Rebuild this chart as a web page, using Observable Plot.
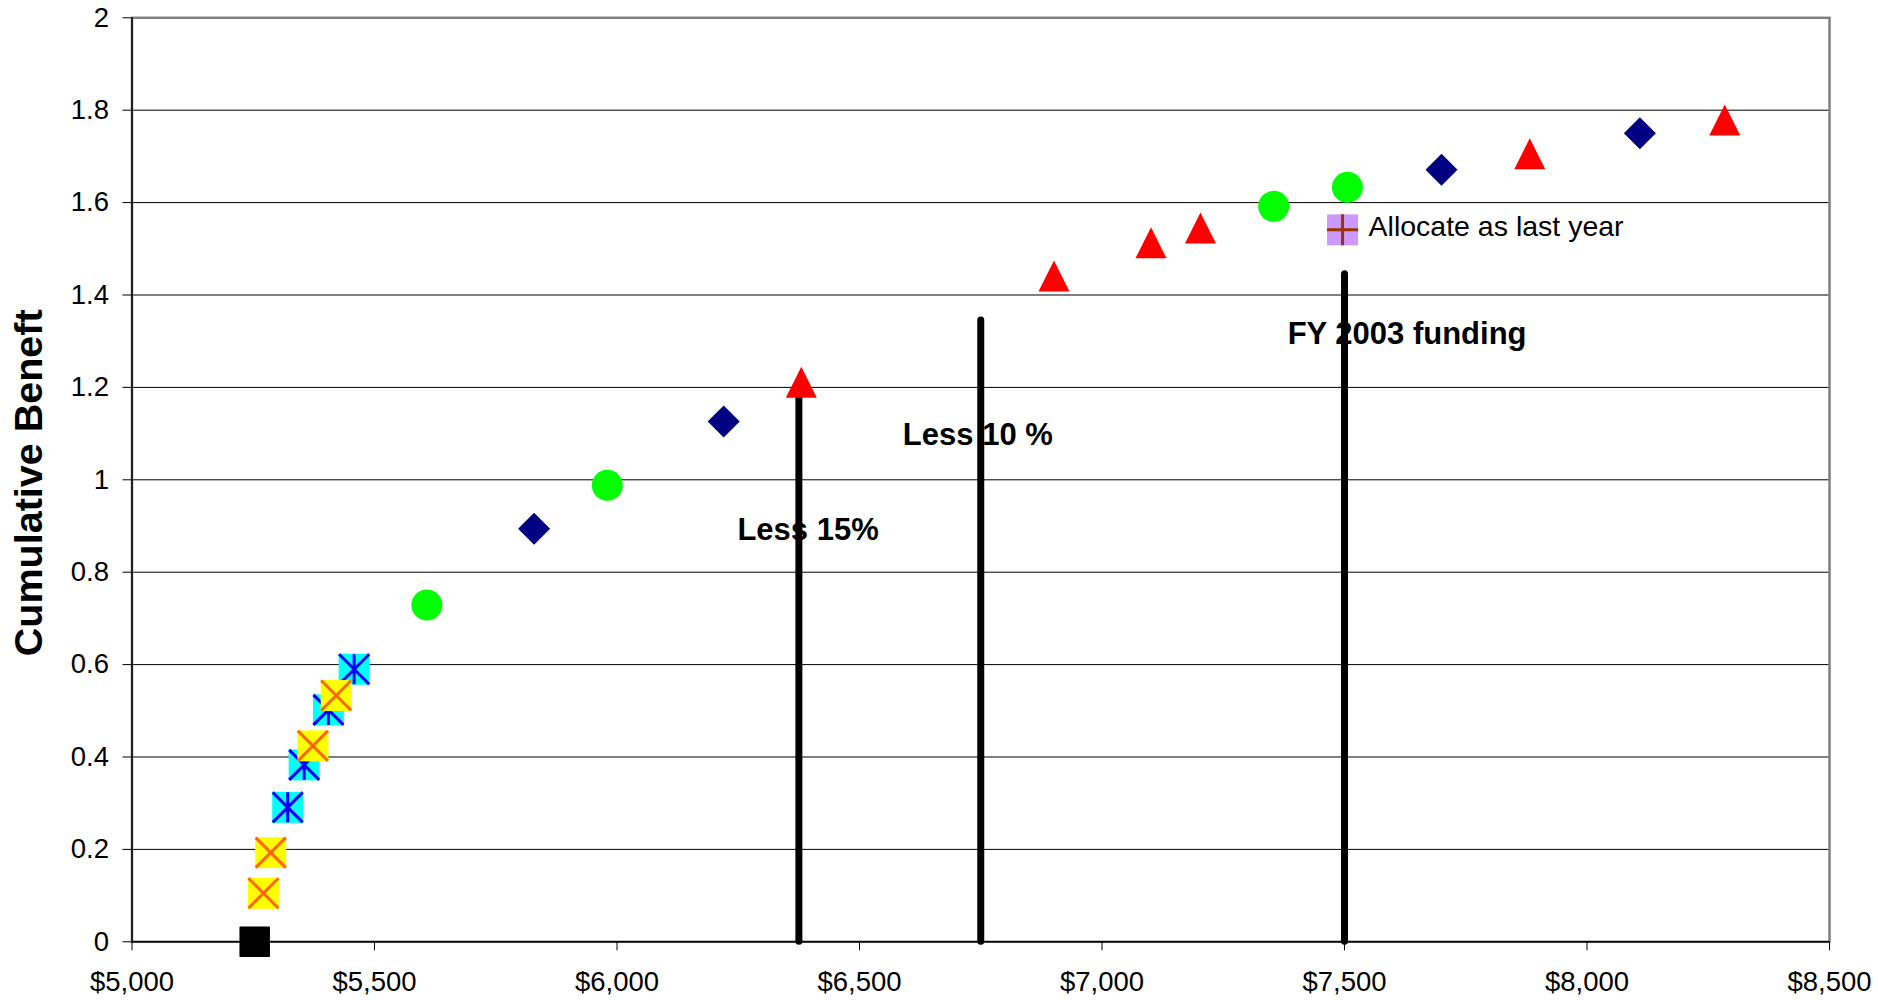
<!DOCTYPE html>
<html><head><meta charset="utf-8">
<script src="https://cdn.jsdelivr.net/npm/d3@7"></script>
<script src="https://cdn.jsdelivr.net/npm/@observablehq/plot@0.6"></script>
<style>html,body{margin:0;padding:0;background:#fff;} #chart svg{display:block}</style>
</head><body><div id="chart"></div>
<script>
// ---- data ----
const startX = [5253];            const startY = [0];
const yellowX = [5271, 5286, 5373, 5421];
const yellowY = [0.105, 0.193, 0.424, 0.533];
const cyanX = [5321, 5355, 5405, 5458];
const cyanY = [0.291, 0.383, 0.502, 0.590];
const greenX = [5608, 5980, 7354, 7506];
const greenY = [0.729, 0.988, 1.592, 1.633];
const navyX = [5829, 6220, 7700, 8109];
const navyY = [0.894, 1.126, 1.671, 1.750];
const redX = [6380, 6901, 7101, 7203, 7882, 8284];
const redY = [1.211, 1.441, 1.513, 1.545, 1.706, 1.779];
const lastYearX = [7496];         const lastYearY = [1.541];
const lastYearLabel = ["Allocate as last year"];
const fundingX = [6375, 6750, 7500];
const fundingTop = [1.18, 1.345, 1.445];
const fundingLabels = ["Less 15%", "Less 10 %", "FY 2003 funding"];
const fundingLabelX = [6394, 6744, 7629];
const fundingLabelY = [0.891, 1.097, 1.316];
const xTicks = [5000, 5500, 6000, 6500, 7000, 7500, 8000, 8500];
const yTicks = [0, 0.2, 0.4, 0.6, 0.8, 1, 1.2, 1.4, 1.6, 1.8, 2];
const yTitle = "Cumulative Beneft";

// ---- tables ----
const pts = (X, Y) => X.map((x, i) => ({x, y: Y[i]}));
const startPts = pts(startX, startY), yellowPts = pts(yellowX, yellowY), cyanPts = pts(cyanX, cyanY);
const greenPts = pts(greenX, greenY), navyPts = pts(navyX, navyY), redPts = pts(redX, redY);
const lastPts = lastYearX.map((x, i) => ({x, y: lastYearY[i], label: lastYearLabel[i]}));
const funding = fundingX.map((x, i) => ({x, top: fundingTop[i], label: fundingLabels[i], lx: fundingLabelX[i], ly: fundingLabelY[i]}));

// ---- custom symbols ----
const square = h => ({draw(c){ c.moveTo(-h,-h); c.lineTo(h,-h); c.lineTo(h,h); c.lineTo(-h,h); c.closePath(); }});
const diamond = h => ({draw(c){ c.moveTo(0,-h); c.lineTo(h,0); c.lineTo(0,h); c.lineTo(-h,0); c.closePath(); }});
const triangle = h => ({draw(c){ c.moveTo(0,-h); c.lineTo(h,h); c.lineTo(-h,h); c.closePath(); }});
const xcross = h => ({draw(c){ c.moveTo(-h,-h); c.lineTo(h,h); c.moveTo(h,-h); c.lineTo(-h,h); }});
const star = h => ({draw(c){ c.moveTo(-h,-h); c.lineTo(h,h); c.moveTo(h,-h); c.lineTo(-h,h); c.moveTo(0,-h); c.lineTo(0,h); }});
const plus = h => ({draw(c){ c.moveTo(-h,0); c.lineTo(h,0); c.moveTo(0,-h); c.lineTo(0,h); }});

const fmtY = d => String(+d.toFixed(1));

const chart = Plot.plot({
  width: 1878, height: 1000,
  marginLeft: 131.5, marginRight: 49, marginTop: 17.3, marginBottom: 58.7,
  x: {domain: [5000, 8500]},
  y: {domain: [0, 2]},
  style: {fontFamily: "'Liberation Sans', Arial, sans-serif", color: "#000", background: "#fff", overflow: "visible"},
  marks: [
    Plot.gridY(yTicks, {stroke: "#000", strokeOpacity: 1, strokeWidth: 1}),
    Plot.frame({stroke: "#808080", strokeWidth: 2.5}),
    Plot.ruleY([0], {stroke: "#000", strokeWidth: 1.5}),
    Plot.ruleX([5000], {stroke: "#000", strokeWidth: 1.5}),
    Plot.axisY({ticks: yTicks, tickSize: 9, tickPadding: 14, tickFormat: fmtY, fontSize: 27.5, label: null, stroke: "#000"}),
    Plot.axisX({ticks: xTicks, tickSize: 9, tickPadding: 21, tickFormat: d3.format("$,"), fontSize: 27.5, label: null, stroke: "#000"}),
    Plot.text(funding, {x: "lx", y: "ly", text: "label", fontSize: 31, fontWeight: "bold", fill: "#000", textAnchor: "middle", lineAnchor: "middle"}),
    Plot.ruleX(funding, {x: "x", y1: 0, y2: "top", stroke: "#000", strokeWidth: 7, strokeLinecap: "round"}),
    Plot.dot(startPts, {x: "x", y: "y", symbol: square(14.5), fill: "#000", stroke: "#000", strokeWidth: 1.5, strokeLinejoin: "round"}),
    Plot.dot(cyanPts, {x: "x", y: "y", symbol: square(15.5), fill: "#00FFFF", stroke: "none"}),
    Plot.dot(cyanPts, {x: "x", y: "y", symbol: star(15), fill: "none", stroke: "#0000FF", strokeWidth: 3}),
    Plot.dot(yellowPts, {x: "x", y: "y", symbol: square(15.5), fill: "#FFFF00", stroke: "none"}),
    Plot.dot(yellowPts, {x: "x", y: "y", symbol: xcross(15), fill: "none", stroke: "#FF6600", strokeWidth: 3}),
    Plot.dot(greenPts, {x: "x", y: "y", symbol: "circle", r: 15.5, fill: "#00FF00", stroke: "none"}),
    Plot.dot(navyPts, {x: "x", y: "y", symbol: diamond(16), fill: "#000080", stroke: "none"}),
    Plot.dot(redPts, {x: "x", y: "y", symbol: triangle(15.5), fill: "#FF0000", stroke: "none"}),
    Plot.dot(lastPts, {x: "x", y: "y", symbol: square(15.5), fill: "#CC99FF", stroke: "none"}),
    Plot.dot(lastPts, {x: "x", y: "y", symbol: plus(15.5), fill: "none", stroke: "#993300", strokeWidth: 3}),
    Plot.text(lastPts, {x: "x", y: "y", text: "label", dx: 26, dy: -3, textAnchor: "start", fontSize: 28.5, fill: "#000", lineAnchor: "middle"}),
    Plot.text([yTitle], {frameAnchor: "left", rotate: -90, dx: -103, dy: 3, fontSize: 39.5, fontWeight: "bold", fill: "#000", textAnchor: "middle", lineAnchor: "middle"})
  ]
});
document.getElementById("chart").append(chart);
</script>
</body></html>
